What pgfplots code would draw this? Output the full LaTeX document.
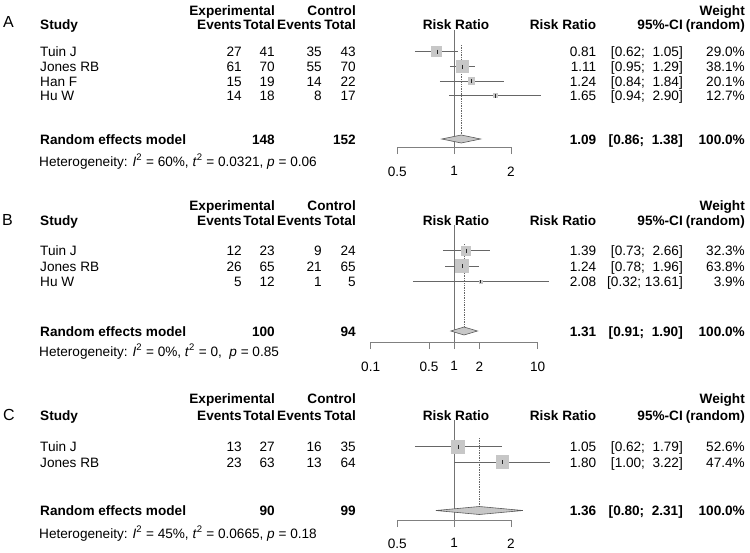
\documentclass[border=0pt]{standalone}
\usepackage{fontspec}
\setmainfont{Liberation Sans}
\usepackage{pgfplots}
\pgfplotsset{compat=1.18}
\newcommand{\fs}{\fontsize{13.6}{15}\selectfont}
\newcommand{\Lt}[3]{\node[anchor=base west] at (#1,#2+5) {#3};}
\newcommand{\Rt}[3]{\node[anchor=base east] at (#1,#2+5) {#3};}
\newcommand{\Ct}[3]{\node[anchor=base] at (#1,#2+5) {#3};}
\newcommand{\sq}{\textsuperscript{2}}
% one study row: y, name, ee, et, ce, ct, rr, ci, w
\newcommand{\Row}[9]{%
  \Lt{40}{#1}{#2}\Rt{242}{#1}{#3}\Rt{275}{#1}{#4}\Rt{322}{#1}{#5}\Rt{356}{#1}{#6}%
  \Rt{596.5}{#1}{#7}\Rt{683}{#1}{#8}\Rt{745}{#1}{#9}}
\newcommand{\Head}[2]{% y1, y2
  \Lt{40}{#2}{\bfseries Study}%
  \Rt{275}{#1}{\bfseries Experimental}\Rt{356}{#1}{\bfseries Control}%
  \Rt{242}{#2}{\bfseries Events}\Rt{275}{#2}{\bfseries Total}%
  \Rt{322}{#2}{\bfseries Events}\Rt{356}{#2}{\bfseries Total}%
  \Ct{456}{#2}{\bfseries Risk Ratio}%
  \Rt{596.5}{#2}{\bfseries Risk Ratio}\Rt{683}{#2}{\bfseries 95\%-CI}%
  \Rt{745}{#1}{\bfseries Weight}\Rt{745}{#2}{\bfseries (random)}}
\pgfplotsset{fp/.style={
  scale only axis, clip=false,
  axis x line=bottom, axis y line=none,
  axis line style={-, black!50, line width=0.7pt},
  x tick style={black!50, line width=0.7pt},
  tick align=outside, major tick length=7pt, minor xtick={},
  xticklabel style={font=\fs, text=black, yshift=-9pt},
  /pgf/number format/assume math mode=true,
  anchor=south west}}
\tikzset{ci/.style={black!60, line width=0.7pt},
  refl/.style={black!55, line width=0.7pt},
  dot/.style={black!60, line width=0.7pt, densely dotted},
  dia/.style={fill=black!22, draw=black!65, line width=0.6pt},
  box/.style={only marks, mark=square*, black!22, mark options={draw=black!22, fill=black!22, line width=0pt}},
  est/.style={only marks, mark=|, black!85, mark size=2, mark options={line width=0.7pt}}}
\begin{document}
\begin{tikzpicture}
\useasboundingbox (0pt,0pt) rectangle (750pt,-552pt);
\begin{scope}[x=1pt,y=-1pt, every node/.style={inner sep=0pt, font=\fs}]
% ---------- A ----------
\node[anchor=base west, font=\fontsize{16}{16}\selectfont] at (3,27) {A};
\Head{10}{24}
\Row{51.5}{Tuin J}{27}{41}{35}{43}{0.81}{[0.62;\ \ 1.05]}{29.0\%}
\Row{66.5}{Jones RB}{61}{70}{55}{70}{1.11}{[0.95;\ \ 1.29]}{38.1\%}
\Row{81}{Han F}{15}{19}{14}{22}{1.24}{[0.84;\ \ 1.84]}{20.1\%}
\Row{95.5}{Hu W}{14}{18}{8}{17}{1.65}{[0.94;\ \ 2.90]}{12.7\%}
\Lt{40}{139}{\bfseries Random effects model}\Rt{275}{139}{\bfseries 148}\Rt{356}{139}{\bfseries 152}
\Rt{596.5}{139}{\bfseries 1.09}\Rt{683}{139}{\bfseries [0.86;\ \ 1.38]}\Rt{745}{139}{\bfseries 100.0\%}
\Lt{39}{161}{Heterogeneity: \textit{I}\sq\ = 60\%, \textit{t}\sq\ = 0.0321, \textit{p} = 0.06}
% ---------- B ----------
\node[anchor=base west, font=\fontsize{16}{16}\selectfont] at (2,225) {B};
\Head{205}{220}
\Row{250.5}{Tuin J}{12}{23}{9}{24}{1.39}{[0.73;\ \ 2.66]}{32.3\%}
\Row{266}{Jones RB}{26}{65}{21}{65}{1.24}{[0.78;\ \ 1.96]}{63.8\%}
\Row{281.5}{Hu W}{5}{12}{1}{5}{2.08}{[0.32; 13.61]}{3.9\%}
\Lt{40}{331}{\bfseries Random effects model}\Rt{275}{331}{\bfseries 100}\Rt{356}{331}{\bfseries 94}
\Rt{596.5}{331}{\bfseries 1.31}\Rt{683}{331}{\bfseries [0.91;\ \ 1.90]}\Rt{745}{331}{\bfseries 100.0\%}
\Lt{39}{351}{Heterogeneity: \textit{I}\sq\ = 0\%, \textit{t}\sq\ = 0,\ \ \textit{p} = 0.85}
% ---------- C ----------
\node[anchor=base west, font=\fontsize{16}{16}\selectfont] at (3,420) {C};
\Head{398}{415}
\Row{446.5}{Tuin J}{13}{27}{16}{35}{1.05}{[0.62;\ \ 1.79]}{52.6\%}
\Row{462}{Jones RB}{23}{63}{13}{64}{1.80}{[1.00;\ \ 3.22]}{47.4\%}
\Lt{40}{510.5}{\bfseries Random effects model}\Rt{275}{510.5}{\bfseries 90}\Rt{356}{510.5}{\bfseries 99}
\Rt{596.5}{510.5}{\bfseries 1.36}\Rt{683}{510.5}{\bfseries [0.80;\ \ 2.31]}\Rt{745}{510.5}{\bfseries 100.0\%}
\Lt{39}{533}{Heterogeneity: \textit{I}\sq\ = 45\%, \textit{t}\sq\ = 0.0665, \textit{p} = 0.18}
\end{scope}

% ---------- A plot ----------
\begin{axis}[fp, xmode=log, at={(397.3pt,-147pt)}, width=113.7pt, height=117pt,
  xmin=0.5, xmax=2, ymin=-147, ymax=-30,
  xtick={0.5,1,2}, xticklabels={0.5,1,2}]
\addplot[refl] coordinates {(1,-30) (1,-147)};
\addplot[dot] coordinates {(1.09,-45) (1.09,-135)};
\addplot[ci] coordinates {(0.62,-51.5) (1.05,-51.5)};
\addplot[ci] coordinates {(0.95,-66.5) (1.29,-66.5)};
\addplot[ci] coordinates {(0.84,-81) (1.84,-81)};
\addplot[ci] coordinates {(0.94,-95.5) (2.90,-95.5)};
\addplot[box, mark size=5] coordinates {(0.81,-51.5)};
\addplot[box, mark size=6] coordinates {(1.11,-66.5)};
\addplot[box, mark size=3.2] coordinates {(1.24,-81)};
\addplot[box, mark size=2] coordinates {(1.65,-95.5)};
\addplot[est] coordinates {(0.81,-51.5) (1.11,-66.5) (1.24,-81) (1.65,-95.5)};
\addplot[dia] coordinates {(0.86,-139) (1.09,-135) (1.38,-139) (1.09,-143)} -- cycle;
\end{axis}

% ---------- B plot ----------
\begin{axis}[fp, xmode=log, at={(370.7pt,-342pt)}, width=167pt, height=117pt,
  xmin=0.1, xmax=10, ymin=-342, ymax=-225,
  xtick={0.1,0.5,1,2,10}, xticklabels={0.1,0.5,1,2,10}]
\addplot[refl] coordinates {(1,-225) (1,-342)};
\addplot[dot] coordinates {(1.31,-244) (1.31,-327)};
\addplot[ci] coordinates {(0.73,-250.5) (2.66,-250.5)};
\addplot[ci] coordinates {(0.78,-266) (1.96,-266)};
\addplot[ci] coordinates {(0.32,-281.5) (13.61,-281.5)};
\addplot[box, mark size=4.5] coordinates {(1.39,-250.5)};
\addplot[box, mark size=6.5] coordinates {(1.24,-266)};
\addplot[box, mark size=1.5] coordinates {(2.08,-281.5)};
\addplot[est] coordinates {(1.39,-250.5) (1.24,-266)};
\addplot[est, mark size=1.5] coordinates {(2.08,-281.5)};
\addplot[dia] coordinates {(0.91,-331) (1.31,-327) (1.90,-331) (1.31,-335)} -- cycle;
\end{axis}

% ---------- C plot ----------
\begin{axis}[fp, xmode=log, at={(397.3pt,-520pt)}, width=113.7pt, height=100pt,
  xmin=0.5, xmax=2, ymin=-520, ymax=-420,
  xtick={0.5,1,2}, xticklabels={0.5,1,2},
  xticklabel style={yshift=1pt}]
\addplot[refl] coordinates {(1,-420) (1,-520)};
\addplot[dot] coordinates {(1.36,-438) (1.36,-506.5)};
\addplot[ci] coordinates {(0.62,-446.5) (1.79,-446.5)};
\addplot[ci] coordinates {(1.00,-462) (3.22,-462)};
\addplot[box, mark size=6.5] coordinates {(1.05,-446.5)};
\addplot[box, mark size=6.2] coordinates {(1.80,-462)};
\addplot[est] coordinates {(1.05,-446.5) (1.80,-462)};
\addplot[dia] coordinates {(0.80,-510.5) (1.36,-506.5) (2.31,-510.5) (1.36,-514.5)} -- cycle;
\end{axis}
\end{tikzpicture}
\end{document}
